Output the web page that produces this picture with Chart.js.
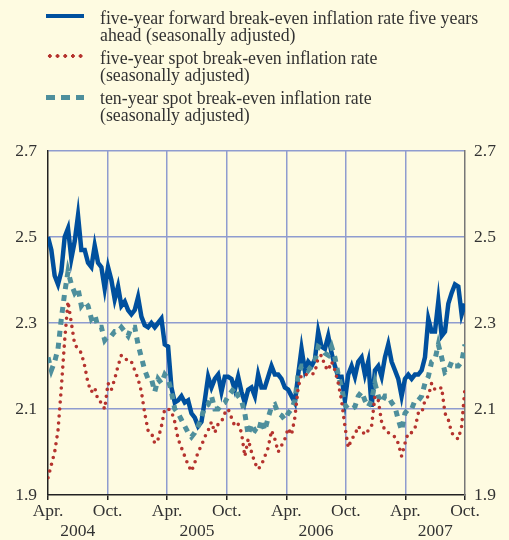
<!DOCTYPE html>
<html>
<head>
<meta charset="utf-8">
<script src="https://cdn.jsdelivr.net/npm/chart.js@4.4.1/dist/chart.umd.min.js"></script>
<style>
  body { margin: 0; background: #fefbe1; }
  #wrap { position: relative; width: 509px; height: 540px; }
  canvas { position: absolute; left: 0; top: 0; }
  .legend { position: absolute; left: 0; top: 0; font-family: "Liberation Serif", serif; font-size: 17.8px; color: #333; }
  .item { position: absolute; left: 100px; line-height: 17px; white-space: nowrap; }
  .sw { position: absolute; left: 46px; width: 38px; }
</style>
</head>
<body>
<div id="wrap">
  <canvas id="chart" width="509" height="540"></canvas>
  <div class="legend">
    <div class="sw" style="top:14px;height:4px;background:#00509e"></div>
    <div class="item" style="top:10px">five-year forward break-even inflation rate five years<br>ahead (seasonally adjusted)</div>
    <div class="sw" style="top:54px;height:4px;background:radial-gradient(circle, #b5332e 1.6px, transparent 1.9px) 0 0/7.7px 4px repeat-x"></div>
    <div class="item" style="top:50px">five-year spot break-even inflation rate<br>(seasonally adjusted)</div>
    <div class="sw" style="top:95px;height:5px;background:repeating-linear-gradient(90deg, #4e8f9c 0 9px, transparent 9px 15px)"></div>
    <div class="item" style="top:90px">ten-year spot break-even inflation rate<br>(seasonally adjusted)</div>
  </div>
</div>
<script>
// months from Apr. 2004 (0) to Oct. 2007 (42), values sampled about every 10 days
const forward5y5y = [
  2.50, 2.47, 2.41, 2.39, 2.42, 2.50, 2.52, 2.45, 2.49, 2.55, 2.47, 2.47, 2.44, 2.43, 2.48, 2.44, 2.43, 2.38, 2.43,
  2.40, 2.355, 2.385, 2.34, 2.35, 2.33, 2.32, 2.33, 2.36, 2.315, 2.295, 2.29, 2.30, 2.29, 2.30, 2.31, 2.25, 2.245,
  2.15, 2.115, 2.12, 2.13, 2.115, 2.12, 2.09, 2.08, 2.06, 2.07, 2.12, 2.175, 2.15, 2.17, 2.18, 2.14, 2.175, 2.175,
  2.17, 2.145, 2.175, 2.14, 2.115, 2.145, 2.15, 2.13, 2.18, 2.15, 2.15, 2.175, 2.20, 2.18, 2.18, 2.17, 2.15, 2.145,
  2.13, 2.115, 2.18, 2.24, 2.19, 2.21, 2.20, 2.215, 2.28, 2.245, 2.24, 2.27, 2.23, 2.20, 2.175, 2.175, 2.12, 2.18,
  2.20, 2.175, 2.21, 2.22, 2.18, 2.21, 2.105, 2.19, 2.20, 2.175, 2.22, 2.25, 2.21, 2.19, 2.17, 2.13, 2.17, 2.18,
  2.17, 2.18, 2.18, 2.19, 2.22, 2.31, 2.28, 2.28, 2.35, 2.27, 2.28, 2.345, 2.37, 2.39, 2.385, 2.32, 2.345
];
const spot5y = [
  1.94, 1.97, 2.00, 2.05, 2.15, 2.26, 2.35, 2.30, 2.25, 2.24, 2.23, 2.20, 2.16, 2.14, 2.15, 2.12, 2.115, 2.10, 2.16,
  2.145, 2.17, 2.20, 2.225, 2.22, 2.21, 2.21, 2.19, 2.17, 2.14, 2.09, 2.05, 2.045, 2.02, 2.03, 2.06, 2.10, 2.10,
  2.095, 2.07, 2.03, 2.01, 1.99, 1.97, 1.955, 1.975, 2.00, 2.015, 2.035, 2.05, 2.07, 2.045, 2.065, 2.07, 2.09, 2.10,
  2.08, 2.06, 2.065, 2.045, 1.99, 2.03, 2.00, 1.975, 1.96, 1.97, 1.99, 2.01, 2.05, 2.03, 2.00, 2.015, 2.03, 2.055,
  2.04, 2.08, 2.15, 2.18, 2.18, 2.18, 2.18, 2.185, 2.22, 2.225, 2.20, 2.19, 2.21, 2.19, 2.16, 2.12, 2.06, 2.01,
  2.03, 2.04, 2.06, 2.05, 2.04, 2.05, 2.06, 2.13, 2.12, 2.07, 2.05, 2.045, 2.04, 2.035, 2.02, 1.99, 2.02, 2.045,
  2.045, 2.055, 2.09, 2.09, 2.12, 2.13, 2.16, 2.145, 2.145, 2.15, 2.09, 2.075, 2.045, 2.035, 2.03, 2.06, 2.15
];
const spot10y = [
  2.22, 2.19, 2.21, 2.24, 2.31, 2.37, 2.42, 2.39, 2.37, 2.38, 2.34, 2.35, 2.34, 2.31, 2.32, 2.29, 2.29, 2.26, 2.27,
  2.27, 2.28, 2.28, 2.29, 2.28, 2.27, 2.29, 2.29, 2.25, 2.22, 2.19, 2.17, 2.17, 2.14, 2.17, 2.16, 2.18, 2.17,
  2.14, 2.10, 2.09, 2.075, 2.06, 2.045, 2.035, 2.045, 2.06, 2.08, 2.105, 2.11, 2.13, 2.10, 2.10, 2.11, 2.115, 2.13,
  2.14, 2.15, 2.13, 2.12, 2.09, 2.04, 2.065, 2.05, 2.045, 2.075, 2.05, 2.08, 2.105, 2.11, 2.09, 2.085, 2.075, 2.09,
  2.10, 2.12, 2.18, 2.20, 2.20, 2.19, 2.20, 2.21, 2.245, 2.24, 2.23, 2.225, 2.245, 2.22, 2.18, 2.15, 2.11, 2.10,
  2.10, 2.105, 2.13, 2.14, 2.12, 2.105, 2.12, 2.16, 2.13, 2.115, 2.13, 2.13, 2.115, 2.105, 2.075, 2.05, 2.09, 2.10,
  2.10, 2.12, 2.12, 2.13, 2.16, 2.175, 2.21, 2.215, 2.25, 2.22, 2.185, 2.19, 2.21, 2.20, 2.20, 2.21, 2.25
];
const yTicks = [1.9, 2.1, 2.3, 2.5, 2.7];
const monthLabels = ['Apr.', 'Oct.'];
const years = ['2004', '2005', '2006', '2007'];
const totalMonths = 42;

function toPoints(arr) {
  return arr.map((v, i) => ({ x: i * totalMonths / (arr.length - 1), y: v }));
}

const gridColor = '#8f9ccf';
const textColor = '#333';
const font = { family: 'Liberation Serif', size: 17.5 };

new Chart(document.getElementById('chart'), {
  type: 'line',
  data: {
    datasets: [
      {
        label: 'five-year spot',
        data: toPoints(spot5y),
        borderColor: '#b5332e',
        borderWidth: 3.6,
        borderDash: [0, 7],
        borderCapStyle: 'round',
        pointRadius: 0,
        tension: 0
      },
      {
        label: 'ten-year spot',
        data: toPoints(spot10y),
        borderColor: '#4e8f9c',
        borderWidth: 5,
        borderDash: [6, 6],
        pointRadius: 0,
        tension: 0
      },
      {
        label: 'five-year forward',
        data: toPoints(forward5y5y),
        borderColor: '#00509e',
        borderWidth: 4.5,
        pointRadius: 0,
        tension: 0
      }
    ]
  },
  options: {
    responsive: false,
    animation: false,
    layout: { padding: { top: 151, left: 0, right: 0, bottom: 0 } },
    plugins: { legend: { display: false }, tooltip: { enabled: false } },
    scales: {
      x: {
        type: 'linear',
        min: 0,
        max: totalMonths,
        afterBuildTicks: axis => {
          const t = [];
          for (let m = 0; m <= totalMonths; m += 3) t.push({ value: m });
          axis.ticks = t;
        },
        afterFit: scale => { scale.height = 45; },
        ticks: {
          autoSkip: false,
          maxRotation: 0,
          padding: 1,
          color: textColor,
          font: Object.assign({ lineHeight: 1.17 }, font),
          callback: v => {
            if (v % 6 === 0) return monthLabels[(v / 6) % 2];
            if (v % 12 === 3) return ['', years[(v - 3) / 12]];
            return '';
          }
        },
        grid: {
          color: c => (c.tick && c.tick.value % 6 === 0 && c.tick.value > 0 && c.tick.value < totalMonths) ? gridColor : 'rgba(0,0,0,0)',
          tickColor: c => (c.tick && c.tick.value % 6 === 0) ? '#222' : 'rgba(0,0,0,0)',
          tickLength: 5,
          lineWidth: 1.5
        },
        border: { color: '#222', width: 1.5 }
      },
      y: {
        position: 'left',
        min: 1.9,
        max: 2.7,
        afterBuildTicks: axis => { axis.ticks = yTicks.map(v => ({ value: v })); },
        afterFit: scale => { scale.width = 48; },
        ticks: { color: textColor, font: font, padding: 11, callback: v => v.toFixed(1) },
        grid: {
          color: c => (c.tick && c.tick.value > 2) ? gridColor : 'rgba(0,0,0,0)',
          drawTicks: false,
          lineWidth: 1.5
        },
        border: { color: '#222', width: 1.5 }
      },
      y2: {
        position: 'right',
        min: 1.9,
        max: 2.7,
        afterBuildTicks: axis => { axis.ticks = yTicks.map(v => ({ value: v })); },
        afterFit: scale => { scale.width = 44; },
        ticks: { color: textColor, font: font, padding: 9, callback: v => v.toFixed(1) },
        grid: { display: false, drawTicks: false },
        border: { color: '#777', width: 1.5 }
      }
    }
  }
});
</script>
</body>
</html>
